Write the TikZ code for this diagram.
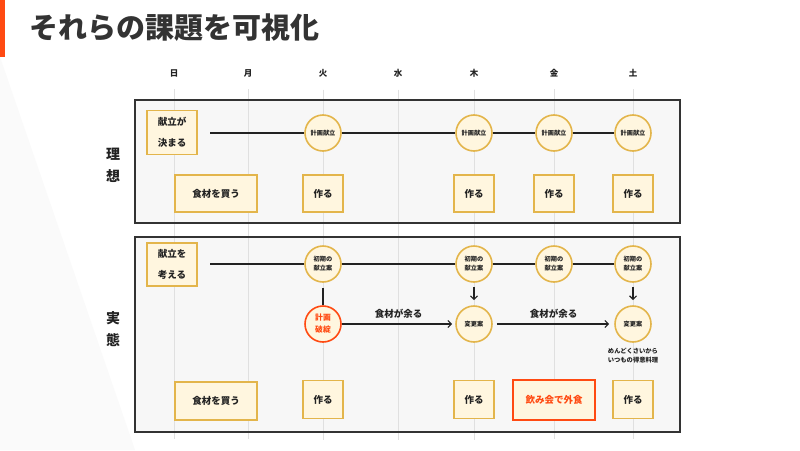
\documentclass[tikz,border=0pt]{standalone}
\usepackage{fontspec}
\setmainfont{Noto Sans CJK JP}
\usetikzlibrary{arrows.meta}
\definecolor{gold}{HTML}{E3B54B}
\definecolor{cream}{HTML}{FFF6DF}
\definecolor{redo}{HTML}{FF4A12}
\definecolor{ink}{HTML}{222222}
\definecolor{titlec}{HTML}{333333}
\definecolor{framefill}{HTML}{F7F7F7}
\definecolor{dayline}{HTML}{E0E0E0}
\begin{document}
\begin{tikzpicture}[x=1pt,y=-1pt,
  every node/.style={text=ink},
  box/.style={draw=gold, fill=cream, line width=1.6pt, minimum height=37pt, inner sep=0pt, align=center, font=\bfseries\fontsize{9.5}{21}\selectfont},
  circ/.style={circle, draw=gold, fill=cream, line width=1.6pt, minimum size=36pt, inner sep=0pt, align=center, font=\bfseries\fontsize{6.2}{9}\selectfont},
  conn/.style={draw=ink, line width=1.2pt},
  arr/.style={conn, -{Straight Barb[length=3.5pt,width=7pt]}},
  framebox/.style={draw=titlec, line width=1.5pt},
  daylab/.style={font=\bfseries\fontsize{8.5}{9}\selectfont},
  side/.style={align=center, font=\bfseries\fontsize{14}{22}\selectfont},
  lab/.style={font=\bfseries\fontsize{9.5}{11}\selectfont, inner sep=0pt},
  note/.style={align=center, font=\bfseries\fontsize{6.3}{9}\selectfont, inner sep=0pt}
]
\useasboundingbox (0,0) rectangle (800,450);
\fill[white] (0,0) rectangle (800,450);
\fill[black!2] (0,57) -- (135,450) -- (0,450) -- cycle;
% title
\fill[redo] (0,0) rectangle (5,57);
\node[anchor=west, text=titlec, font=\bfseries\fontsize{29}{30}\selectfont, inner sep=0pt] (title) at (29,28) {それらの課題を可視化};
% day labels
\node[daylab] (d1) at (174,73) {日};
\node[daylab] (d2) at (248,73) {月};
\node[daylab] (d3) at (323,73) {火};
\node[daylab] (d4) at (398,73) {水};
\node[daylab] (d5) at (474,73) {木};
\node[daylab] (d6) at (554,73) {金};
\node[daylab] (d7) at (633,73) {土};
% frames fill
\fill[framefill] (135,100) rectangle (680,223);
\fill[framefill] (135,237) rectangle (680,432);
% day lines
\foreach \d in {d1,d2,d3,d4,d5,d6,d7}{
  \draw[dayline, line width=0.8pt] (\d.south) ++(0,9) -- ++(0,350);
}
\draw[framebox] (135,100) rectangle (680,223);
\draw[framebox] (135,237) rectangle (680,432);
% side labels
\node[side] (ideal) at (113,165) {理\\想};
\node[side] (real) at (113,329) {実\\態};
% ---- ideal ----
\node[box, minimum width=50pt, minimum height=44pt] (k1) at (172,132.5) {献立が\\決まる};
\coordinate (s1) at (210,133);
\node[circ] (t3) at (323,133) {計画献立};
\node[circ] (t5) at (474,133) {計画献立};
\node[circ] (t6) at (554,133) {計画献立};
\node[circ] (t7) at (633,133) {計画献立};
\draw[conn] (s1) -- (t3);
\draw[conn] (t3) -- (t5);
\draw[conn] (t5) -- (t6);
\draw[conn] (t6) -- (t7);
\node[box, minimum width=82pt] (b1) at (216,193.5) {食材を買う};
\node[box, minimum width=40pt] (m3) at (323,193.5) {作る};
\node[box, minimum width=40pt] (m5) at (474,193.5) {作る};
\node[box, minimum width=40pt] (m6) at (554,193.5) {作る};
\node[box, minimum width=40pt] (m7) at (633,193.5) {作る};
% ---- real ----
\node[box, minimum width=50pt, minimum height=43pt] (k2) at (172,264.5) {献立を\\考える};
\coordinate (s2) at (210,264);
\node[circ] (c3) at (323,264) {初期の\\献立案};
\node[circ] (c5) at (474,264) {初期の\\献立案};
\node[circ] (c6) at (554,264) {初期の\\献立案};
\node[circ] (c7) at (633,264) {初期の\\献立案};
\draw[conn] (s2) -- (c3);
\draw[conn] (c3) -- (c5);
\draw[conn] (c5) -- (c6);
\draw[conn] (c6) -- (c7);
\node[circ, draw=redo, text=redo, font=\bfseries\fontsize{7.8}{12}\selectfont] (r3) at (323,324) {計画\\破綻};
\node[circ] (v5) at (474,324) {変更案};
\node[circ] (v7) at (633,324) {変更案};
\draw[conn, shorten <=5pt] (c3) -- (r3);
\draw[arr, shorten <=4pt, shorten >=5pt] (c5) -- (v5);
\draw[arr, shorten <=4pt, shorten >=5pt] (c7) -- (v7);
\draw[arr, shorten >=3pt] (r3) -- node[lab, above=5pt] (e1) {食材が余る} (v5);
\draw[arr, shorten <=4pt, shorten >=5pt] (v5) -- node[lab, above=5pt] (e2) {食材が余る} (v7);
\node[note, anchor=north] (n7) at (633,348) {めんどくさいから\\いつもの得意料理};
\node[box, minimum width=82pt, minimum height=38pt] (b2) at (216,401) {食材を買う};
\node[box, minimum width=40pt, minimum height=38pt] (p3) at (323,399.5) {作る};
\node[box, minimum width=40pt, minimum height=38pt] (p5) at (474,399.5) {作る};
\node[box, minimum width=82pt, minimum height=40pt, draw=redo, text=redo] (p6) at (554,400) {飲み会で外食};
\node[box, minimum width=40pt, minimum height=38pt] (p7) at (633,399.5) {作る};
\end{tikzpicture}
\end{document}
